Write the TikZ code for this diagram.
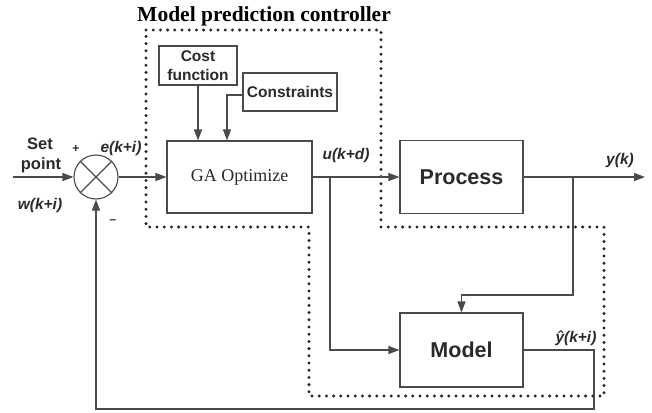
\documentclass[tikz,border=0pt]{standalone}
\usepackage{fontspec}
\setmainfont{Liberation Serif}
\setsansfont{Liberation Sans}
\usetikzlibrary{arrows.meta,calc}
\definecolor{ln}{HTML}{4A4A4A}
\definecolor{tx}{HTML}{2A2A2A}
\tikzset{
  blk/.style={draw=ln,line width=1.1pt,rectangle,inner sep=0pt},
  conn/.style={draw=ln,line width=1.1pt},
  arr/.style={conn,-{Triangle[length=11pt,width=8pt]}},
  lbl/.style={font=\sffamily\bfseries\itshape\fontsize{15.5}{18}\selectfont,text=tx,inner sep=0pt},
  slbl/.style={font=\sffamily\bfseries\fontsize{16.5}{19}\selectfont,text=tx,inner sep=0pt},
  dotb/.style={draw=black!85,line width=3.3pt,line cap=round,dash pattern=on 0pt off 7.2pt}
}
\begin{document}
\begin{tikzpicture}[x=1pt,y=-1pt]
\useasboundingbox (0,0) rectangle (652,412);
% title
\node[font=\bfseries\fontsize{21.5}{25}\selectfont,inner sep=0pt] (title) at (264,16) {Model prediction controller};
% dotted boundary
\draw[dotb] (146,30) -- (381,30) -- (381,227) -- (604,227) -- (604,396) -- (309,396) -- (309,227) -- (146,227) -- cycle;
% blocks
\node[blk,minimum width=78pt,minimum height=39pt,align=center,font=\sffamily\bfseries\fontsize{15.5}{19}\selectfont,text=tx] (cost) at (198,65.5) {Cost\\function};
\node[blk,minimum width=94pt,minimum height=38pt,font=\sffamily\bfseries\fontsize{15.5}{19}\selectfont,text=tx] (cons) at (290,92) {Constraints};
\node[blk,minimum width=145pt,minimum height=72pt,font=\fontsize{18}{22}\selectfont,text=tx] (ga) at (239.5,177) {GA Optimize};
\node[blk,minimum width=123pt,minimum height=73pt,font=\sffamily\bfseries\fontsize{21.5}{25}\selectfont,text=tx] (proc) at (461.5,177) {Process};
\node[blk,minimum width=123pt,minimum height=74pt,font=\sffamily\bfseries\fontsize{21.5}{25}\selectfont,text=tx] (model) at (461.5,350) {Model};
% summing junction
\node[draw=ln,line width=1.1pt,circle,minimum size=44pt,inner sep=0pt] (sum) at (96,177) {};
\draw[conn] (sum.north west) -- (sum.south east);
\draw[conn] (sum.north east) -- (sum.south west);
% coordinates
\coordinate (in) at (13,177);
\coordinate (out) at (645,177);
\coordinate (b1) at (330,177);
\coordinate (b2) at (573,177);
\coordinate (b2d) at (573,295);
\coordinate (b2m) at (461.5,295);
\coordinate (b1d) at (330,350);
\coordinate (fb1) at (594,350);
\coordinate (fb2) at (594,409);
\coordinate (fb3) at (96,409);
\coordinate (cn) at (227,95);
% connectors
\draw[arr] (in) -- (sum.west);
\draw[arr] (sum.east) -- (ga.west);
\draw[arr] (cost.south) -- (cost.south |- ga.north);
\draw[arr] (cons.west |- cn) -- (cn) -- (cn |- ga.north);
\draw[arr] (ga.east) -- (proc.west);
\draw[arr] (b1) -- (b1d) -- (model.west);
\draw[arr] (proc.east) -- (out);
\draw[arr] (b2) -- (b2d) -- (b2m) -- (model.north);
\draw[arr] (model.east) -- (fb1) -- (fb2) -- (fb3) -- (sum.south);
% labels
\node[slbl] (set) at (40,144) {Set};
\node[slbl] (pt) at (41,165) {point};
\node[lbl] (w) at (40,205) {w(k+i)};
\node[font=\sffamily\bfseries\fontsize{12}{14}\selectfont,text=tx,inner sep=0pt] (plus) at (76,149) {+};
\node[font=\sffamily\bfseries\fontsize{12}{14}\selectfont,text=tx,inner sep=0pt] (minus) at (113,222) {\textendash};
\node[lbl] (e) at (121,148) {e(k+i)};
\node[lbl] (u) at (346,155) {u(k+d)};
\node[lbl] (y) at (620,160) {y(k)};
\node[lbl] (yh) at (576,338) {ŷ(k+i)};
\end{tikzpicture}
\end{document}
